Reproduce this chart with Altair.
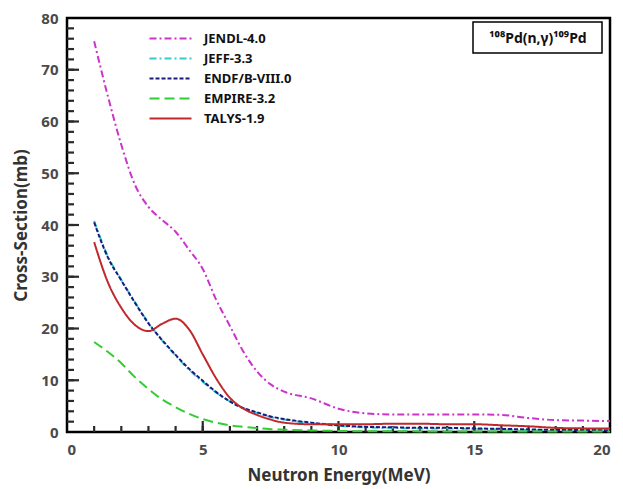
import altair as alt
import pandas as pd

energy = [1, 1.5, 2, 2.5, 3, 3.5, 4, 4.5, 5, 5.5, 6, 6.5, 7, 7.5, 8, 9, 10, 11, 12, 13, 14, 15, 16, 17, 18, 19, 20]

jendl = [75.5, 65.0, 55.5, 47.8, 43.5, 41.0, 38.7, 35.2, 31.5, 25.5, 20.5, 15.5, 11.7, 9.2, 7.8, 6.5, 4.5, 3.6, 3.4, 3.4, 3.4, 3.4, 3.3, 2.7, 2.3, 2.2, 2.1]
jeff = [40.8, 34.0, 29.4, 25.1, 21.1, 17.7, 14.8, 12.0, 9.7, 7.6, 5.9, 4.6, 3.7, 2.9, 2.4, 1.7, 1.2, 0.9, 0.8, 0.7, 0.7, 0.6, 0.5, 0.4, 0.35, 0.3, 0.3]
endf = [40.5, 33.8, 29.3, 25.0, 21.0, 17.8, 14.9, 12.2, 9.9, 7.7, 5.9, 4.6, 3.8, 3.0, 2.5, 1.8, 1.3, 1.0, 0.9, 0.8, 0.8, 0.7, 0.6, 0.5, 0.4, 0.4, 0.3]
empire = [17.4, 15.5, 13.3, 10.6, 8.3, 6.3, 4.8, 3.5, 2.5, 1.8, 1.3, 1.0, 0.75, 0.55, 0.45, 0.3, 0.2, 0.15, 0.15, 0.12, 0.12, 0.1, 0.1, 0.1, 0.1, 0.1, 0.1]
talys = [36.7, 29.0, 24.0, 20.7, 19.5, 20.9, 21.9, 19.8, 15.0, 10.3, 6.6, 4.5, 3.3, 2.4, 1.8, 1.5, 1.5, 1.5, 1.6, 1.6, 1.5, 1.5, 1.3, 1.1, 0.8, 0.7, 0.7]

series_names = ["JENDL-4.0", "JEFF-3.3", "ENDF/B-VIII.0", "EMPIRE-3.2", "TALYS-1.9"]
series_values = [jendl, jeff, endf, empire, talys]
series_colors = ["#cc33cc", "#33cccc", "#1a1a80", "#33cc33", "#c0282c"]
series_dashes = [[7, 3, 2, 3], [7, 3, 2, 3], [4, 2], [10, 5], [1, 0]]

x_minor = list(range(1, 20))
y_minor = list(range(2, 80, 2))
x_major = [5, 10, 15]
y_major = [10, 20, 30, 40, 50, 60, 70]

rows = []
for i, (name, vals) in enumerate(zip(series_names, series_values)):
    for e, v in zip(energy, vals):
        rows.append({"series": name, "energy": e, "xs": v})
df = pd.DataFrame(rows)

W, H = 543, 414
XMAX, YMAX = 20, 80
xscale = alt.Scale(domain=[0, XMAX], nice=False)
yscale = alt.Scale(domain=[0, YMAX], nice=False)
px_y = YMAX / H

FONT = "Noto Sans"
TICK = "#2a2a2a"

leg = alt.Legend(title=None, orient="none", legendX=83 + 9, legendY=9,
                 symbolType="M-2,0H2", symbolSize=441, symbolStrokeWidth=2,
                 labelFontSize=13, labelFont=FONT, labelFontWeight="bold",
                 labelColor="#111111", rowPadding=1, labelOffset=22, padding=0)

lines = alt.Chart(df).mark_line(strokeWidth=2, interpolate="monotone").encode(
    x=alt.X("energy:Q", scale=xscale,
            axis=alt.Axis(title="Neutron Energy(MeV)", values=[0, 5, 10, 15, 20], format="d")),
    y=alt.Y("xs:Q", scale=yscale,
            axis=alt.Axis(title="Cross-Section(mb)", values=[0, 10, 20, 30, 40, 50, 60, 70, 80], format="d")),
    color=alt.Color("series:N", scale=alt.Scale(domain=series_names, range=series_colors), legend=leg),
    strokeDash=alt.StrokeDash("series:N", scale=alt.Scale(domain=series_names, range=series_dashes), legend=leg),
)

def xticks(vals, length):
    return alt.Chart(pd.DataFrame({"v": vals})).mark_rule(color=TICK, strokeWidth=2.2).encode(
        x=alt.X("v:Q", scale=xscale), y=alt.datum(0), y2=alt.datum(length * px_y))

def yticks(vals, length):
    return alt.Chart(pd.DataFrame({"w": vals})).mark_rule(color=TICK, strokeWidth=2.2).encode(
        y=alt.Y("w:Q", scale=yscale), x=alt.value(0), x2=alt.value(length))

box = alt.Chart(pd.DataFrame({"a": [0]})).mark_rect(fill="white", stroke="black", strokeWidth=1.5).encode(
    x=alt.value(406), x2=alt.value(535), y=alt.value(4), y2=alt.value(35))
label = alt.Chart(pd.DataFrame({"a": ["¹⁰⁸Pd(n,γ)¹⁰⁹Pd"]})).mark_text(
    font=FONT, fontSize=14, fontWeight="bold", color="#111111", align="center", baseline="middle").encode(
    text="a:N", x=alt.value(471), y=alt.value(21))

chart = alt.layer(xticks(x_minor, 6), xticks(x_major, 11), yticks(y_minor, 7), yticks(y_major, 12),
                  lines, box, label).properties(
    width=W, height=H,
    autosize=alt.AutoSizeParams(type="none"),
    padding={"left": 67, "top": 18, "right": 13, "bottom": 57},
).configure_view(stroke="black", strokeWidth=2.5).configure_axis(
    domain=False, grid=False, tickSize=0,
    labelFont=FONT, labelFontSize=15, labelFontWeight="bold", labelColor="#4a4a4a",
    titleFont=FONT, titleFontSize=17, titleFontWeight="bold", titleColor="#333333",
).configure_axisX(labelPadding=10, titlePadding=10).configure_axisY(labelPadding=9, titlePadding=10)

chart.save("out.html", embed_options={"renderer": "svg", "actions": False})
